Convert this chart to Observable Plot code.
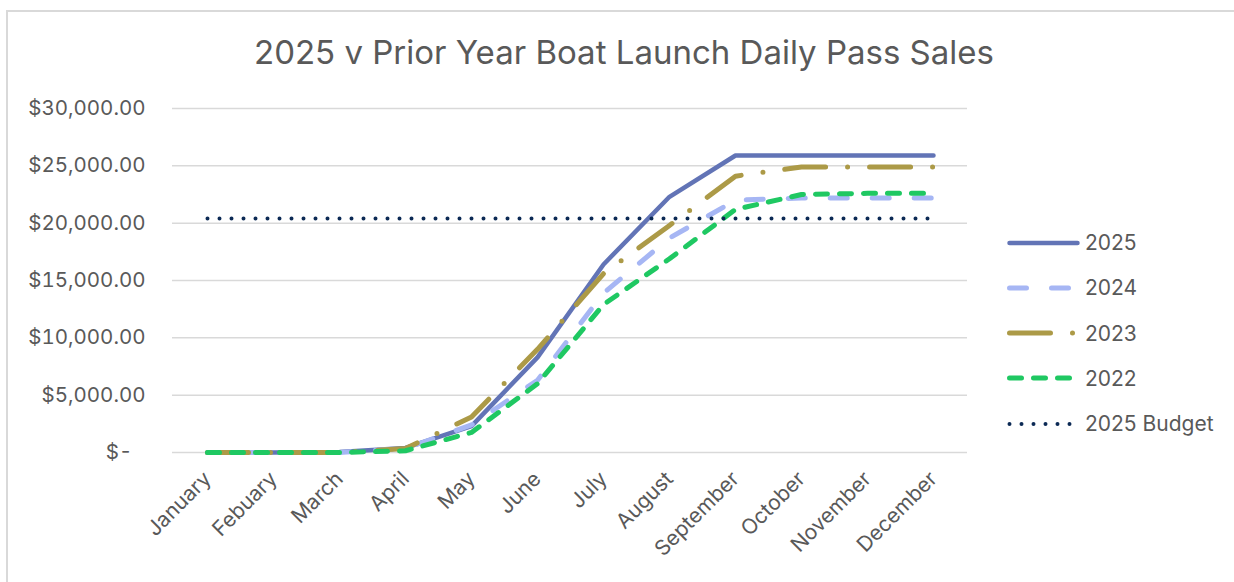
<!DOCTYPE html>
<html>
<head>
<meta charset="utf-8">
<script src="https://cdn.jsdelivr.net/npm/d3@7"></script>
<script src="https://cdn.jsdelivr.net/npm/@observablehq/plot@0.6"></script>
<style>
  html, body { margin: 0; padding: 0; background: #fff; }
  #chart { position: relative; width: 1234px; height: 582px; overflow: hidden; font-family: Inter, "Open Sans", sans-serif; color: #595959; }
  #frame { position: absolute; left: 6px; top: 10px; width: 1400px; height: 800px; border: 2px solid #D9D9D9; box-sizing: border-box; }
  #title { position: absolute; left: 0; width: 1248px; top: 32px; text-align: center; font-size: 33px; line-height: 40px; color: #595959; }
  #plot { position: absolute; left: 0; top: 0; }
  #legend { position: absolute; left: 1005px; top: 220px; font-size: 21px; color: #595959; }
  .item { display: flex; align-items: center; height: 45.25px; }
  .item svg { margin-right: 4px; }
</style>
</head>
<body>
<div id="chart">
  <div id="frame"></div>
  <div id="plot"></div>
  <div id="title">2025 v Prior Year Boat Launch Daily Pass Sales</div>
  <div id="legend"></div>
</div>
<script>
const months = ["January","Febuary","March","April","May","June","July","August","September","October","November","December"];
const sales2025 = [0, 0, 50, 400, 2300, 8300, 16400, 22300, 25900, 25900, 25900, 25900];
const sales2024 = [0, 0, 0, 350, 2400, 6300, 13900, 18700, 22000, 22200, 22200, 22200];
const sales2023 = [0, 0, 0, 350, 3100, 9000, 15600, 19800, 24100, 24900, 24900, 24900];
const sales2022 = [0, 0, 0, 150, 1750, 6000, 12900, 16900, 21200, 22500, 22600, 22600];
const budget2025 = [20400, 20400, 20400, 20400, 20400, 20400, 20400, 20400, 20400, 20400, 20400, 20400];
const yTicks = [0, 5000, 10000, 15000, 20000, 25000, 30000];

const seriesList = [
  {name: "2025", values: sales2025, color: "#6274B6", width: 4.5, dash: null},
  {name: "2024", values: sales2024, color: "#A6B6F4", width: 5, dash: "17,25"},
  {name: "2023", values: sales2023, color: "#AC9A47", width: 5, dash: "41,22,0,22"},
  {name: "2022", values: sales2022, color: "#1FC862", width: 5, dash: "12,12"},
  {name: "2025 Budget", values: budget2025, color: "#0C2A55", width: 4, dash: "0,12"}
];

const rows = s => months.map((m, i) => ({month: m, value: s.values[i]}));

const fmt = d => d === 0 ? "$-\u2007" : "$" + d3.format(",.2f")(d);

const chart = Plot.plot({
  width: 1234,
  height: 582,
  marginLeft: 172,
  marginRight: 267,
  marginTop: 108,
  marginBottom: 130,
  style: {fontFamily: "Inter, 'Open Sans', sans-serif", fontSize: "20px", color: "#595959", background: "transparent"},
  x: {type: "point", domain: months, padding: 0.5, label: null},
  y: {domain: [0, 30000], label: null},
  marks: [
    Plot.gridY(yTicks, {stroke: "#D9D9D9", strokeOpacity: 1, strokeWidth: 1.5}),
    Plot.axisY(yTicks, {tickSize: 0, tickPadding: 27, tickFormat: fmt, fontSize: 20.5, fill: "#595959", label: null}),
    Plot.axisX({tickSize: 0, tickRotate: -45, tickPadding: 23, fontSize: 21, fill: "#595959", label: null}),
    ...seriesList.map(s => Plot.lineY(rows(s), {
      x: "month", y: "value", stroke: s.color, strokeWidth: s.width,
      strokeDasharray: s.dash, strokeLinecap: "round", strokeLinejoin: "round"
    }))
  ]
});
document.getElementById("plot").appendChild(chart);

// legend
const legend = document.getElementById("legend");
for (const s of seriesList) {
  const item = document.createElement("div");
  item.className = "item";
  const ns = "http://www.w3.org/2000/svg";
  const sw = document.createElementNS(ns, "svg");
  sw.setAttribute("width", 76);
  sw.setAttribute("height", 10);
  const ln = document.createElementNS(ns, "line");
  ln.setAttribute("x1", 4.5); ln.setAttribute("x2", 72.5);
  ln.setAttribute("y1", 5); ln.setAttribute("y2", 5);
  ln.setAttribute("stroke", s.color);
  ln.setAttribute("stroke-width", s.width);
  ln.setAttribute("stroke-linecap", "round");
  if (s.dash) ln.setAttribute("stroke-dasharray", s.dash);
  sw.appendChild(ln);
  item.appendChild(sw);
  const t = document.createElement("span");
  t.textContent = s.name;
  item.appendChild(t);
  legend.appendChild(item);
}
</script>
</body>
</html>
